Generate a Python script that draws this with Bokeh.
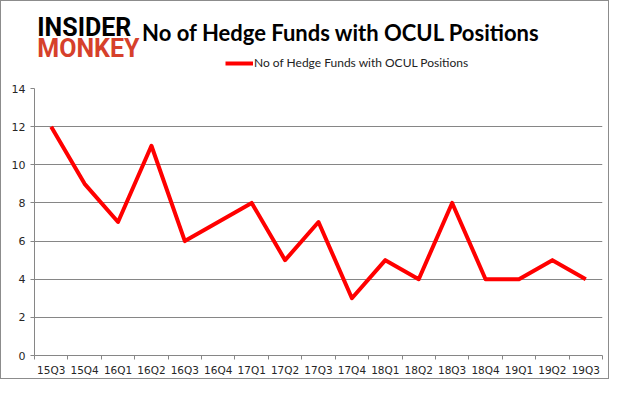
from bokeh.plotting import figure
from bokeh.layouts import column
from bokeh.models import (FixedTicker, Legend, LegendItem, Range1d,
                          InlineStyleSheet)
from bokeh.core.properties import value
from bokeh.embed import file_html
from bokeh.resources import INLINE

quarters = ["15Q3", "15Q4", "16Q1", "16Q2", "16Q3", "16Q4", "17Q1", "17Q2",
            "17Q3", "17Q4", "18Q1", "18Q2", "18Q3", "18Q4", "19Q1", "19Q2", "19Q3"]
funds = [12, 9, 7, 11, 6, 7, 8, 5, 7, 3, 5, 4, 8, 4, 4, 5, 4]
y_ticks = [0, 2, 4, 6, 8, 10, 12, 14]
series_name = "No of Hedge Funds with OCUL Positions"
title_text = "No of Hedge Funds with OCUL Positions"
logo_top = "INSIDER"
logo_bottom = "MONKEY"

LINE_COLOR = "#ff0000"
GRID = "#868686"
LABEL = "#262626"

W_IN = 607   # inner width (1px border each side -> 609)
HH = 78      # header height
MH = 299     # main chart height (78 + 299 + 2 = 379)

# ---------- header (logo, title, legend) ----------
h = figure(width=W_IN, height=HH, output_backend="svg", toolbar_location=None,
           x_range=Range1d(0, W_IN), y_range=Range1d(HH, 0),
           x_axis_location=None, y_axis_location=None,
           min_border=0, min_border_left=0, min_border_right=0,
           min_border_top=0, min_border_bottom=0)
h.grid.visible = False
h.outline_line_color = None
h.border_fill_color = "white"
h.background_fill_color = "white"

h.text(x=[115], y=[31], text=[title_text], text_font=value("Lato"),
       text_font_size="22px", text_font_style="bold", text_color="black",
       text_baseline="alphabetic")
h.text(x=[3], y=[26], text=[logo_top], text_font=value("Roboto"),
       text_font_size="25px", text_font_style="bold", text_color="black",
       text_baseline="alphabetic")
h.text(x=[3], y=[47], text=[logo_bottom], text_font=value("Roboto"),
       text_font_size="25px", text_font_style="bold", text_color="#d6402b",
       text_baseline="alphabetic")

swatch = h.line(x=[-100, -90], y=[-100, -100], line_color=LINE_COLOR, line_width=4)
legend = Legend(items=[LegendItem(label=series_name, renderers=[swatch])],
                location=(191, 9), orientation="horizontal",
                label_text_font="Lato", label_text_font_size="12px",
                label_text_color="#222222",
                glyph_width=28, glyph_height=12, label_standoff=1,
                padding=0, margin=0, spacing=0, border_line_color=None,
                background_fill_alpha=0)
h.add_layout(legend, "center")

# ---------- main chart ----------
xs = list(range(len(quarters)))
p = figure(width=W_IN, height=MH, output_backend="svg", toolbar_location=None,
           x_range=Range1d(-0.5, len(quarters) - 0.5), y_range=Range1d(0, 14),
           min_border_left=33, min_border_right=6, min_border_top=9,
           min_border_bottom=22)
p.outline_line_color = None
p.border_fill_color = "white"

p.line(xs, funds, line_color=LINE_COLOR, line_width=4, line_join="round")

xa = p.xaxis[0]
xa.ticker = FixedTicker(ticks=xs, minor_ticks=[i - 0.5 for i in range(len(quarters) + 1)])
xa.major_label_overrides = {i: q for i, q in enumerate(quarters)}
xa.major_tick_line_color = None
xa.major_tick_out = 4
xa.minor_tick_in = 0
xa.minor_tick_out = 4
xa.minor_tick_line_color = GRID
xa.axis_line_color = GRID
xa.major_label_text_font = "DejaVu Sans"
xa.major_label_text_font_size = "10.5px"
xa.major_label_text_color = LABEL
xa.major_label_standoff = 4

ya = p.yaxis[0]
ya.ticker = FixedTicker(ticks=y_ticks, minor_ticks=[])
ya.major_tick_in = 0
ya.major_tick_out = 4
ya.major_tick_line_color = GRID
ya.axis_line_color = GRID
ya.major_label_text_font = "DejaVu Sans"
ya.major_label_text_font_size = "11px"
ya.major_label_text_color = LABEL
ya.major_label_standoff = 5

p.xgrid.grid_line_color = None
p.ygrid.ticker = FixedTicker(ticks=y_ticks[1:])
p.ygrid.grid_line_color = GRID

page = column(h, p, spacing=0)
page.stylesheets = [InlineStyleSheet(css=":host { border: 1px solid #8c8c8c; }")]

open("out.html", "w").write(file_html(page, INLINE))
